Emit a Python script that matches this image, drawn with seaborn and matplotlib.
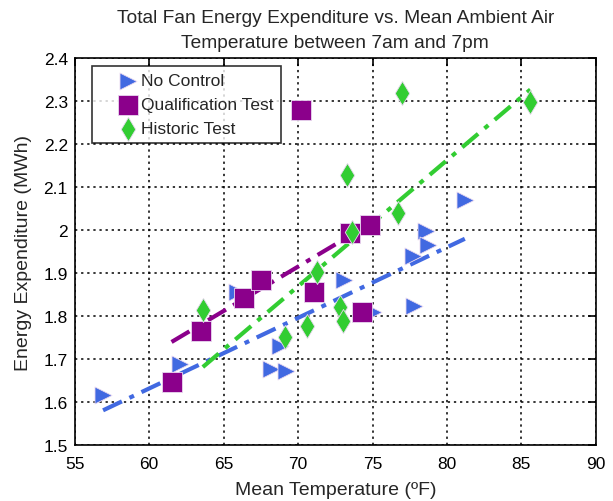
import matplotlib
matplotlib.use("Agg")
import matplotlib.pyplot as plt
import numpy as np
import pandas as pd
import seaborn as sns

# temperature (F) / energy (MWh) per series
nc_temp = [56.9, 62.1, 65.9, 68.8, 68.2, 69.2, 73.1, 75.0, 81.2, 78.6, 78.7, 77.7, 77.8]
nc_energy = [1.617, 1.688, 1.855, 1.729, 1.677, 1.671, 1.884, 1.808, 2.070, 1.998, 1.965, 1.939, 1.822]

qt_temp = [61.5, 63.5, 66.4, 67.5, 70.2, 71.1, 74.3, 73.5, 74.8]
qt_energy = [1.646, 1.764, 1.842, 1.884, 2.280, 1.855, 1.810, 1.992, 2.012]

ht_temp = [63.6, 69.1, 70.6, 71.3, 72.8, 73.0, 73.6, 73.3, 76.7, 77.0, 85.6]
ht_energy = [1.814, 1.750, 1.776, 1.903, 1.820, 1.789, 1.995, 2.128, 2.039, 2.320, 2.299]

series = ["No Control", "Qualification Test", "Historic Test"]
colors = {"No Control": "#4169E1", "Qualification Test": "#8B008B", "Historic Test": "#32CD32"}
markers = {"No Control": ">", "Qualification Test": "s", "Historic Test": "d"}
sizes = {"No Control": 150, "Qualification Test": 210, "Historic Test": 150}

frames = []
for name, t, e in zip(series, [nc_temp, qt_temp, ht_temp], [nc_energy, qt_energy, ht_energy]):
    frames.append(pd.DataFrame({"temp": t, "energy": e, "Series": name}))
data = pd.concat(frames, ignore_index=True)

sns.set_style("white")
plt.rcParams["font.family"] = ["Liberation Sans", "DejaVu Sans"]

fig = plt.figure(figsize=(6.13, 5.02), dpi=100)
ax = fig.add_axes([0.122, 0.112, 0.85, 0.770])

# dash-dot linear fits
for name in series:
    D = data[data["Series"] == name]
    sns.regplot(data=D, x="temp", y="energy", ax=ax, scatter=False, ci=None,
                truncate=True, color=colors[name],
                line_kws={"ls": (0, (5, 2, 1.2, 2)), "lw": 3, "zorder": 2})

for name in series:
    D = data[data["Series"] == name]
    sns.scatterplot(data=D, x="temp", y="energy", ax=ax, marker=markers[name],
                    color=colors[name], s=sizes[name], edgecolor="#e8d8f0",
                    linewidth=0.6, label=name, zorder=3)

ax.set_xlim(55, 90)
ax.set_ylim(1.5, 2.4)
ax.set_xticks(np.arange(55, 91, 5))
ax.set_yticks(np.arange(1.5, 2.41, 0.1))
ax.set_yticklabels(["1.5", "1.6", "1.7", "1.8", "1.9", "2", "2.1", "2.2", "2.3", "2.4"])
ax.grid(True, ls=(0, (1.5, 2.5)), color="black", lw=1.1)
ax.set_axisbelow(True)
for sp in ax.spines.values():
    sp.set_color("black")
    sp.set_linewidth(1.2)
ax.tick_params(direction="in", length=6, width=1.2, labelsize=12.5, colors="black",
               top=True, right=True)
ax.tick_params(axis="x", pad=8)
ax.tick_params(axis="y", pad=5)

ax.set_xlabel("Mean Temperature (ºF)", fontsize=14, labelpad=7)
ax.set_ylabel("Energy Expenditure (MWh)", fontsize=14, labelpad=8)
ax.set_title("Total Fan Energy Expenditure vs. Mean Ambient Air\nTemperature between 7am and 7pm",
             fontsize=13.8, pad=8, linespacing=1.65)

leg = ax.legend(loc="upper left", fontsize=12.5, frameon=True, fancybox=False,
                edgecolor="black", borderpad=0.4, handlelength=3.3, handletextpad=-0.85,
                labelspacing=0.5, bbox_to_anchor=(0.033, 0.979), borderaxespad=0)
leg.get_frame().set_linewidth(1.2)

fig.savefig("out.png", dpi=100)
